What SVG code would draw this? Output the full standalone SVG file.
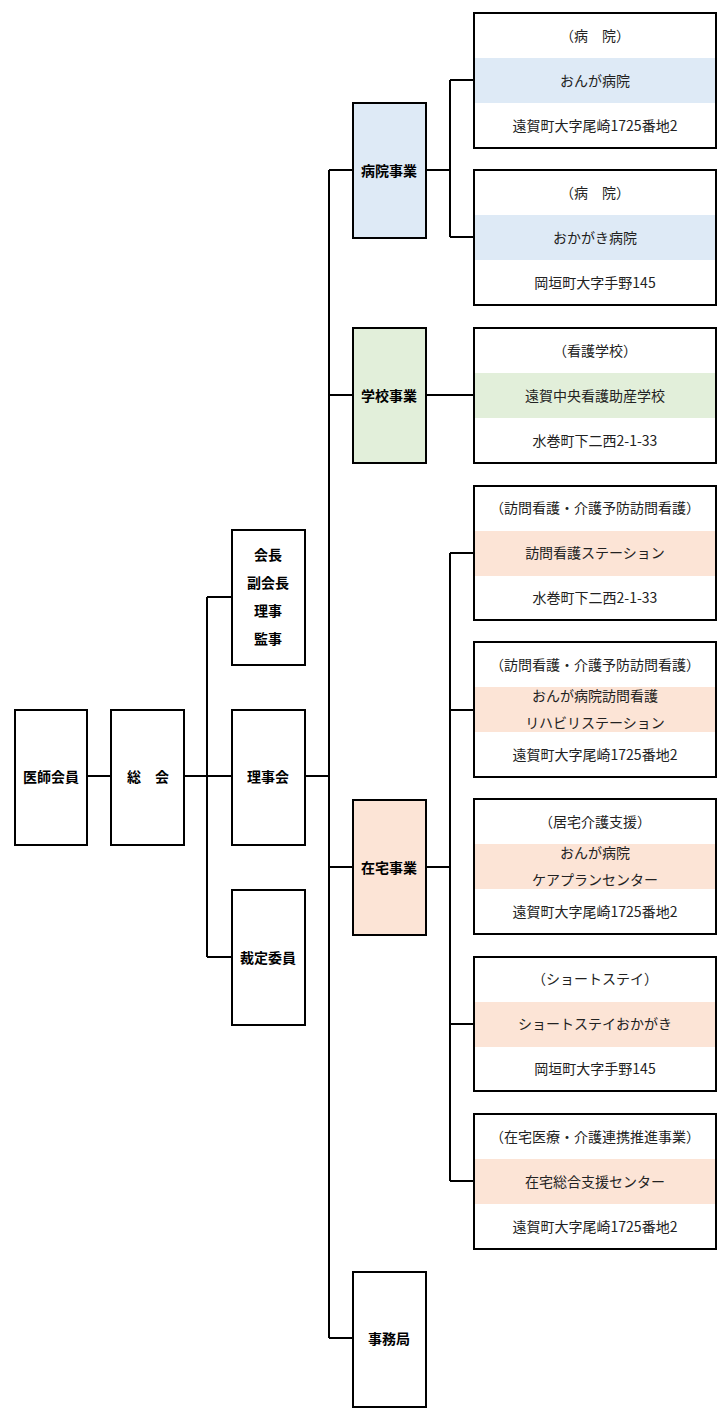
<svg xmlns="http://www.w3.org/2000/svg" width="723" height="1416" viewBox="0 0 723 1416">
<style>
.b{fill:#fff;stroke:#000;stroke-width:2}
.t{font-family:"Noto Sans CJK JP","Noto Sans",sans-serif;font-size:14px;text-anchor:middle;dominant-baseline:central;fill:#222}
.bt{font-family:"Noto Sans CJK JP","Noto Sans",sans-serif;font-size:14px;font-weight:bold;text-anchor:middle;dominant-baseline:central;fill:#000}
.c{fill:none;stroke:#000;stroke-width:2}
.hb{fill:#deeaf6}.sg{fill:#e2efda}.zp{fill:#fce4d6}
</style>
<rect width="723" height="1416" fill="#fff"/>
<g id="connectors">
<path class="c" d="M87 776H232M207 597V957M207 597H232M207 957H232M305 776H329M329 170V1338M329 170H353M329 395H353M329 867H353M329 1338H353"/>
<path class="c" d="M426 170H450M450 80V237M450 80H474M450 237H474M426 395H474M426 867H450M450 553V1181M450 553H474M450 710H474M450 1024H474M450 1181H474"/>
</g>
<g id="n-ishikaiin"><rect class="b" x="15" y="710" width="72" height="135"/><text class="bt" x="51" y="776">医師会員</text></g>
<g id="n-sokai"><rect class="b" x="111" y="710" width="73" height="135"/><text class="bt" x="148" y="776" xml:space="preserve">総　会</text></g>
<g id="n-kaicho"><rect class="b" x="232" y="530" width="73" height="135"/><text class="bt" x="268" y="554">会長</text><text class="bt" x="268" y="582">副会長</text><text class="bt" x="268" y="610">理事</text><text class="bt" x="268" y="638">監事</text></g>
<g id="n-rijikai"><rect class="b" x="232" y="710" width="73" height="135"/><text class="bt" x="268" y="776">理事会</text></g>
<g id="n-saitei"><rect class="b" x="232" y="890" width="73" height="135"/><text class="bt" x="268" y="957">裁定委員</text></g>
<g id="n-byoin"><rect class="b hb" x="353" y="103" width="73" height="135"/><text class="bt" x="389" y="170">病院事業</text></g>
<g id="n-gakko"><rect class="b sg" x="353" y="328" width="73" height="135"/><text class="bt" x="389" y="395">学校事業</text></g>
<g id="n-zaitaku"><rect class="b zp" x="353" y="800" width="73" height="135"/><text class="bt" x="389" y="867">在宅事業</text></g>
<g id="n-jimukyoku"><rect class="b" x="353" y="1272" width="73" height="135"/><text class="bt" x="389" y="1338">事務局</text></g>
<g id="r1"><rect class="b" x="474" y="13" width="242" height="135"/><rect class="hb" x="475" y="58" width="240" height="45"/><text class="t" x="595" y="35" xml:space="preserve">（病　院）</text><text class="t" x="595" y="80">おんが病院</text><text class="t" x="595" y="125">遠賀町大字尾崎1725番地2</text></g>
<g id="r2"><rect class="b" x="474" y="170" width="242" height="135"/><rect class="hb" x="475" y="215" width="240" height="45"/><text class="t" x="595" y="192" xml:space="preserve">（病　院）</text><text class="t" x="595" y="237">おかがき病院</text><text class="t" x="595" y="282">岡垣町大字手野145</text></g>
<g id="r3"><rect class="b" x="474" y="328" width="242" height="135"/><rect class="sg" x="475" y="373" width="240" height="45"/><text class="t" x="595" y="350">（看護学校）</text><text class="t" x="595" y="395">遠賀中央看護助産学校</text><text class="t" x="595" y="440">水巻町下二西2-1-33</text></g>
<g id="r4"><rect class="b" x="474" y="486" width="242" height="134"/><rect class="zp" x="475" y="531" width="240" height="45"/><text class="t" x="595" y="507">（訪問看護・介護予防訪問看護）</text><text class="t" x="595" y="552">訪問看護ステーション</text><text class="t" x="595" y="597">水巻町下二西2-1-33</text></g>
<g id="r5"><rect class="b" x="474" y="642" width="242" height="135"/><rect class="zp" x="475" y="687" width="240" height="45"/><text class="t" x="595" y="664">（訪問看護・介護予防訪問看護）</text><text class="t" x="595" y="695">おんが病院訪問看護</text><text class="t" x="595" y="722">リハビリステーション</text><text class="t" x="595" y="754">遠賀町大字尾崎1725番地2</text></g>
<g id="r6"><rect class="b" x="474" y="799" width="242" height="135"/><rect class="zp" x="475" y="844" width="240" height="45"/><text class="t" x="595" y="821">（居宅介護支援）</text><text class="t" x="595" y="852">おんが病院</text><text class="t" x="595" y="879">ケアプランセンター</text><text class="t" x="595" y="911">遠賀町大字尾崎1725番地2</text></g>
<g id="r7"><rect class="b" x="474" y="957" width="242" height="134"/><rect class="zp" x="475" y="1002" width="240" height="45"/><text class="t" x="595" y="978">（ショートステイ）</text><text class="t" x="595" y="1023">ショートステイおかがき</text><text class="t" x="595" y="1068">岡垣町大字手野145</text></g>
<g id="r8"><rect class="b" x="474" y="1114" width="242" height="135"/><rect class="zp" x="475" y="1159" width="240" height="45"/><text class="t" x="595" y="1136">（在宅医療・介護連携推進事業）</text><text class="t" x="595" y="1181">在宅総合支援センター</text><text class="t" x="595" y="1226">遠賀町大字尾崎1725番地2</text></g>
</svg>
